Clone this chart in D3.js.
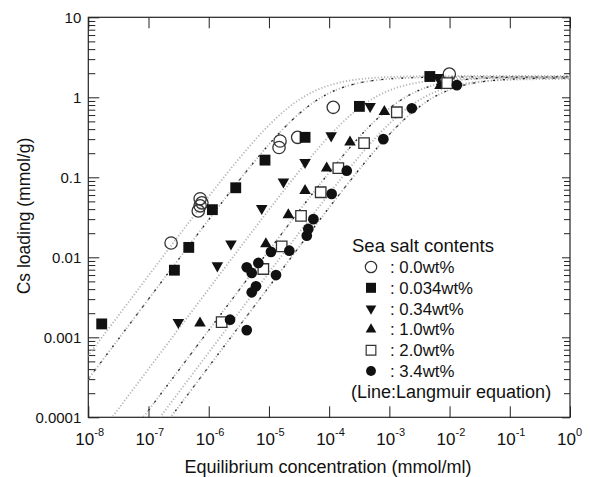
<!DOCTYPE html>
<html>
<head>
<meta charset="utf-8">
<script src="https://cdn.jsdelivr.net/npm/d3@7"></script>
<style>
  body { margin: 0; background: #fff; }
  text { font-family: "Liberation Sans", Arial, sans-serif; fill: #111; }
</style>
</head>
<body>
<script>
// sea salt contents (legend order)
const seriesNames = ["0.0wt%", "0.034wt%", "0.34wt%", "1.0wt%", "2.0wt%", "3.4wt%"];

// [equilibrium concentration (mmol/ml), Cs loading (mmol/g)]
const salt00 = [[2.37e-7, 0.0151], [7.2e-7, 0.054], [7.7e-7, 0.048], [7.2e-7, 0.044], [6.7e-7, 0.038],
  [1.53e-5, 0.284], [1.47e-5, 0.236], [3.0e-5, 0.316], [1.17e-4, 0.75], [9.9e-3, 1.95]];
const salt0034 = [[1.67e-8, 0.00147], [2.69e-7, 0.0069], [4.66e-7, 0.0133], [1.15e-6, 0.0394], [2.81e-6, 0.074],
  [8.6e-6, 0.164], [3.98e-5, 0.316], [3.18e-4, 0.77], [4.7e-3, 1.82]];
const salt034 = [[3.13e-7, 0.00154], [1.39e-6, 0.00785], [2.34e-6, 0.0147], [7.59e-6, 0.041], [1.74e-5, 0.088],
  [3.98e-5, 0.154], [1.08e-4, 0.331], [4.79e-4, 0.77], [6.4e-3, 1.78]];
const salt10 = [[7.16e-7, 0.0015], [8.9e-6, 0.0147], [2.1e-5, 0.0338], [3.98e-5, 0.068], [9.1e-5, 0.13],
  [2.22e-4, 0.274], [8.26e-4, 0.66], [6.95e-3, 1.4]];
const salt20 = [[1.64e-6, 0.00155], [8.07e-6, 0.00714], [1.63e-5, 0.0137], [3.41e-5, 0.033], [7.24e-5, 0.065],
  [1.42e-4, 0.13], [3.8e-4, 0.268], [1.33e-3, 0.65], [9.1e-3, 1.5]];
const salt34 = [[2.26e-6, 0.00166], [4.28e-6, 0.00123], [5.18e-6, 0.00365], [6.1e-6, 0.00434], [4.28e-6, 0.0075],
  [5.18e-6, 0.00637], [6.67e-6, 0.0085], [1.31e-5, 0.006], [1.08e-5, 0.0117], [2.18e-5, 0.0121],
  [4.25e-5, 0.0186], [4.5e-5, 0.0226], [5.47e-5, 0.03], [1.1e-4, 0.062], [1.96e-4, 0.121],
  [7.94e-4, 0.3], [2.36e-3, 0.73], [1.32e-2, 1.42]];
const allSeries = [salt00, salt0034, salt034, salt10, salt20, salt34];

// Langmuir fit q = qm*K*C/(1+K*C)
const langmuirQm = [1.85, 1.8, 1.75, 1.8, 1.7, 1.75];
const langmuirK = [3.2e4, 1.67e4, 2300, 680, 380, 245];

const xExponents = [-8, -7, -6, -5, -4, -3, -2, -1, 0];
const yTickLabels = ["0.0001", "0.001", "0.01", "0.1", "1", "10"];

const w = 590, h = 477;
const plotLeft = 88.3, plotRight = 570, plotTop = 17.3, plotBottom = 417.3;

const svg = d3.select("body").append("svg")
  .attr("width", w)
  .attr("height", h);

const x = d3.scaleLog().domain([1e-8, 1]).range([plotLeft, plotRight]);
const y = d3.scaleLog().domain([1e-4, 10]).range([plotBottom, plotTop]);

const xMajor = xExponents.map(e => Math.pow(10, e));
const yMajor = yTickLabels.map(Number);
const yMinor = [];
yMajor.slice(0, -1).forEach(d => {
  for (let k = 2; k <= 9; k++) yMinor.push(d * k);
});

// frame
svg.append("rect")
  .attr("x", plotLeft).attr("y", plotTop)
  .attr("width", plotRight - plotLeft).attr("height", plotBottom - plotTop)
  .attr("fill", "none").attr("stroke", "#222").attr("stroke-width", 1.2);

// bottom and top ticks
svg.append("g")
  .attr("transform", "translate(0," + plotBottom + ")")
  .call(d3.axisBottom(x).tickValues(xMajor).tickSizeInner(-11).tickSizeOuter(0).tickFormat(""))
  .call(g => g.select(".domain").remove());
svg.append("g")
  .attr("transform", "translate(0," + plotTop + ")")
  .call(d3.axisTop(x).tickValues(xMajor).tickSizeInner(-11).tickSizeOuter(0).tickFormat(""))
  .call(g => g.select(".domain").remove());

// left ticks with labels
svg.append("g")
  .attr("transform", "translate(" + plotLeft + ",0)")
  .call(d3.axisLeft(y).tickValues(yMajor).tickSizeInner(-11).tickSizeOuter(0).tickPadding(7)
    .tickFormat((d, i) => yTickLabels[i]))
  .call(g => g.select(".domain").remove())
  .call(g => g.selectAll("text").style("font-size", "15px").style("font-family", "Liberation Sans").attr("fill", "#111"));
svg.append("g")
  .attr("transform", "translate(" + plotLeft + ",0)")
  .call(d3.axisLeft(y).tickValues(yMinor).tickSizeInner(-7).tickSizeOuter(0).tickFormat(""))
  .call(g => g.select(".domain").remove());

// right ticks
svg.append("g")
  .attr("transform", "translate(" + plotRight + ",0)")
  .call(d3.axisRight(y).tickValues(yMajor).tickSizeInner(-8).tickSizeOuter(0).tickFormat(""))
  .call(g => g.select(".domain").remove());
svg.append("g")
  .attr("transform", "translate(" + plotRight + ",0)")
  .call(d3.axisRight(y).tickValues(yMinor).tickSizeInner(-6).tickSizeOuter(0).tickFormat(""))
  .call(g => g.select(".domain").remove());

svg.selectAll(".tick line").attr("stroke", "#222");

// x labels 10^n
const xLabels = svg.append("g").selectAll("text")
  .data(xExponents)
  .enter()
  .append("text")
  .attr("x", d => x(Math.pow(10, d)) - 13)
  .attr("y", 445)
  .style("font-size", "17px");
xLabels.append("tspan").text("10");
xLabels.append("tspan")
  .attr("dy", -9)
  .style("font-size", "11px")
  .text(d => d === 0 ? "0" : "-" + Math.abs(d));

// axis titles
svg.append("text")
  .attr("x", 328)
  .attr("y", 473)
  .attr("text-anchor", "middle")
  .style("font-size", "18px")
  .text("Equilibrium concentration (mmol/ml)");
svg.append("text")
  .attr("transform", "translate(30,216) rotate(-90)")
  .attr("text-anchor", "middle")
  .style("font-size", "17.5px")
  .text("Cs loading (mmol/g)");

// Langmuir lines
svg.append("clipPath").attr("id", "plot-clip")
  .append("rect")
  .attr("x", plotLeft).attr("y", plotTop)
  .attr("width", plotRight - plotLeft).attr("height", plotBottom - plotTop);

const logC = d3.range(-9, 0.001, 0.02).map(e => Math.pow(10, e));
const line = d3.line()
  .x(d => x(d[0]))
  .y(d => y(Math.max(d[1], 1e-6)));

const curves = svg.append("g").attr("clip-path", "url(#plot-clip)");
langmuirK.forEach((K, i) => {
  const qm = langmuirQm[i];
  const pts = logC.map(c => [c, qm * K * c / (1 + K * c)]);
  curves.append("path")
    .attr("d", line(pts))
    .attr("fill", "none")
    .attr("stroke", "#b4b4b4")
    .attr("stroke-width", 1.8)
    .attr("stroke-dasharray", "1.2,2");
  if (i % 2 === 1) {
    curves.append("path")
      .attr("d", line(pts))
      .attr("fill", "none")
      .attr("stroke", "#222")
      .attr("stroke-width", 1.2)
      .attr("stroke-dasharray", "2,8");
  }
});

// markers
const markerStyle = [
  { type: d3.symbolCircle, size: 120, fill: "none", stroke: "#333", rotate: 0 },
  { type: d3.symbolSquare, size: 118, fill: "#111", stroke: "none", rotate: 0 },
  { type: d3.symbolTriangle, size: 58, fill: "#111", stroke: "none", rotate: 180 },
  { type: d3.symbolTriangle, size: 58, fill: "#111", stroke: "none", rotate: 0 },
  { type: d3.symbolSquare, size: 110, fill: "#fff", stroke: "#333", rotate: 0 },
  { type: d3.symbolCircle, size: 90, fill: "#111", stroke: "none", rotate: 0 }
];

allSeries.forEach((data, i) => {
  const st = markerStyle[i];
  svg.append("g").selectAll("path")
    .data(data)
    .enter()
    .append("path")
    .attr("d", d3.symbol().type(st.type).size(st.size))
    .attr("transform", d => "translate(" + x(d[0]) + "," + y(d[1]) + ") rotate(" + st.rotate + ")")
    .attr("fill", st.fill)
    .attr("stroke", st.stroke)
    .attr("stroke-width", 1.3);
});

// legend
const legend = svg.append("g").attr("id", "legend");
legend.append("text")
  .attr("x", 352)
  .attr("y", 252)
  .style("font-size", "18.5px")
  .text("Sea salt contents");
const items = legend.selectAll(".legend-label")
  .data(seriesNames)
  .enter()
  .append("g")
  .attr("class", "legend-label")
  .attr("transform", (d, i) => "translate(0," + (267 + i * 20.8) + ")");
items.append("path")
  .attr("d", (d, i) => d3.symbol().type(markerStyle[i].type).size(markerStyle[i].size * 0.85)())
  .attr("transform", (d, i) => "translate(371,0) rotate(" + markerStyle[i].rotate + ")")
  .attr("fill", (d, i) => markerStyle[i].fill)
  .attr("stroke", (d, i) => markerStyle[i].stroke)
  .attr("stroke-width", 1.2);
items.append("text")
  .attr("x", 390)
  .attr("y", 0)
  .attr("dy", "0.36em")
  .style("font-size", "16.8px")
  .text(d => ": " + d);
legend.append("text")
  .attr("x", 351)
  .attr("y", 392)
  .attr("dy", "0.36em")
  .style("font-size", "18px")
  .text("(Line:Langmuir equation)");
</script>
</body>
</html>
